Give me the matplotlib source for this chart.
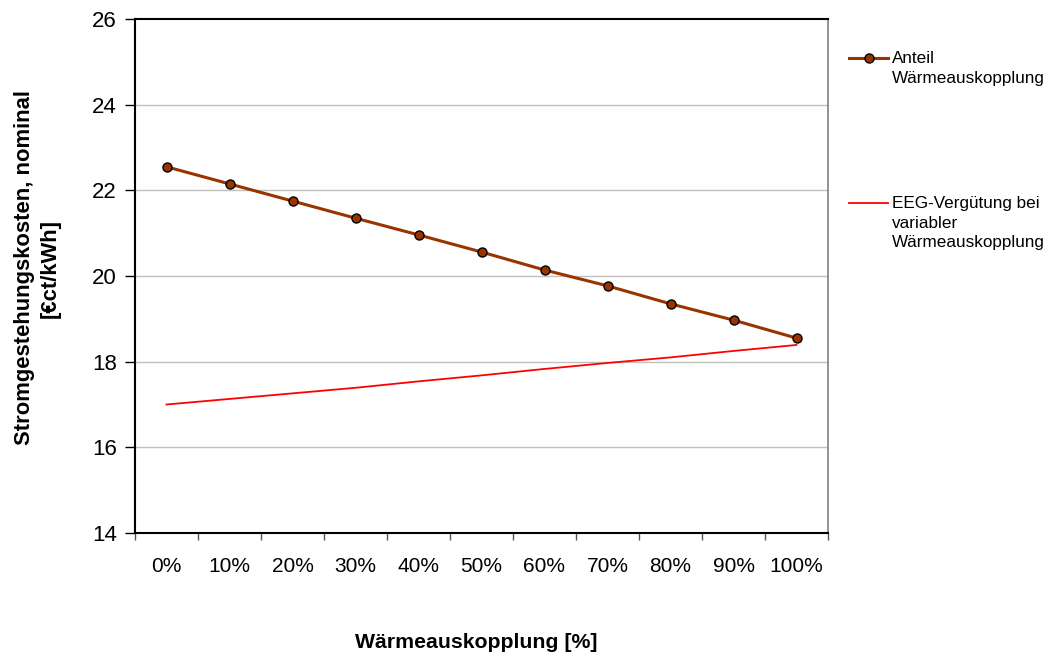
import matplotlib
matplotlib.use("Agg")
import matplotlib.pyplot as plt
from matplotlib.lines import Line2D
import numpy as np

plt.rcParams['font.family'] = ['Liberation Sans', 'DejaVu Sans']

categories = ["0%", "10%", "20%", "30%", "40%", "50%", "60%", "70%", "80%", "90%", "100%"]
anteil = [22.55, 22.15, 21.75, 21.35, 20.96, 20.56, 20.14, 19.77, 19.35, 18.97, 18.55]
eeg = [17.0, 17.13, 17.26, 17.39, 17.54, 17.68, 17.83, 17.97, 18.10, 18.25, 18.39]
yticks = [14, 16, 18, 20, 22, 24, 26]

W, H = 1051, 658
fig = plt.figure(figsize=(W / 100, H / 100), dpi=100)
ax = fig.add_axes([135/W, 1 - 533/H, (828-135)/W, (533-19)/H])

brown = '#993300'
red = '#ff0000'

x = np.arange(len(categories))
ax.plot(x, eeg, color=red, lw=1.3, zorder=3)
ax.plot(x, anteil, color=brown, lw=2.2, marker='o', ms=6.5, mfc=brown, mec='black',
        mew=1.0, zorder=4)

ax.set_xlim(-0.5, len(categories) - 0.5)
ax.set_ylim(14, 26)
ax.set_yticks(yticks)
ax.set_yticklabels([str(v) for v in yticks], fontsize=16)
ax.set_xticks(x)
ax.set_xticklabels(categories, fontsize=15)
ax.tick_params(axis='x', which='major', length=0, pad=17)
ax.set_xticks(np.arange(len(categories) + 1) - 0.5, minor=True)
ax.tick_params(axis='x', which='minor', length=5, width=1, direction='out', color='#555555')
ax.tick_params(axis='y', length=7, width=1, direction='out', pad=6)

for v in yticks[1:-1]:
    ax.axhline(v, color='#c0c0c0', lw=1, zorder=1)

for s in ['left', 'bottom', 'top']:
    ax.spines[s].set_color('black')
    ax.spines[s].set_linewidth(1.5)
ax.spines['right'].set_color('#808080')
ax.spines['right'].set_linewidth(1.2)

fig.text(37/W, 1 - 268/H, "Stromgestehungskosten, nominal\n[€ct/kWh]", fontsize=15.8,
         fontweight='bold', rotation=90, ha='center', va='center', linespacing=1.3,
         multialignment='center')
fig.text(476/W, 1 - 643/H, "Wärmeauskopplung [%]", fontsize=15.3, fontweight='bold',
         ha='center', va='center')

# legend drawn on the figure: handle aligned with the first line of each label
def legend_entry(y_px, label, **line_kw):
    fig.add_artist(Line2D([849/W, 888/W], [1 - y_px/H, 1 - y_px/H], transform=fig.transFigure,
                          **line_kw))
    fig.text(892/W, 1 - (y_px - 7)/H, label, fontsize=12.3, ha='left', va='top',
             linespacing=1.38)

legend_entry(58, "Anteil\nWärmeauskopplung", color=brown, lw=2.2)
fig.add_artist(Line2D([868.5/W], [1 - 58/H], transform=fig.transFigure, marker='o', ms=6.5,
                      mfc=brown, mec='black', mew=1.0, ls='none'))
legend_entry(203, "EEG-Vergütung bei\nvariabler\nWärmeauskopplung", color=red, lw=1.3)

fig.savefig("out.png", dpi=100)
